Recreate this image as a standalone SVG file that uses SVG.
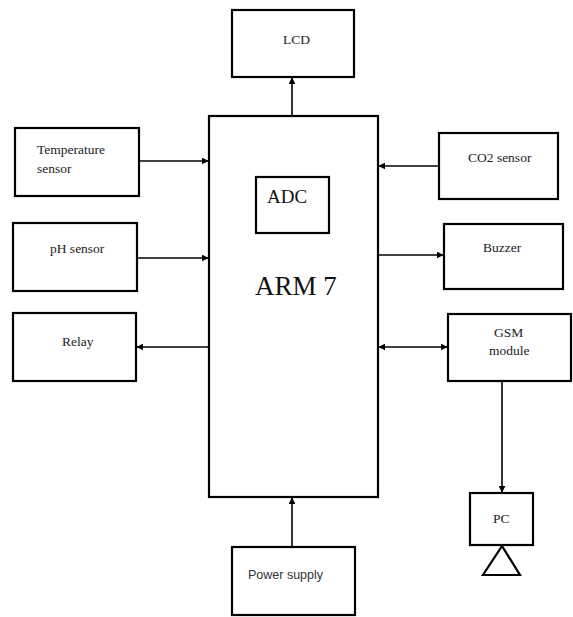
<svg xmlns="http://www.w3.org/2000/svg" width="573" height="617" viewBox="0 0 573 617">
<style>
.box{fill:#fff;stroke:#000;stroke-width:2.2}
.lbl{font-family:'Liberation Serif','Times New Roman',serif;font-size:13.5px;fill:#222}
.con{fill:none;stroke:#000;stroke-width:1.6}
</style>
<defs>
<marker id="ah" viewBox="0 0 10 10" refX="9" refY="5" markerWidth="7" markerHeight="7" markerUnits="userSpaceOnUse" orient="auto-start-reverse">
<path d="M0,0 L10,5 L0,10 z" fill="#000"/>
</marker>
</defs>
<rect width="573" height="617" fill="#fff"/>
<g id="lcd"><rect class="box" x="232" y="10" width="122" height="67"/><text class="lbl" x="283" y="44">LCD</text></g>
<g id="arm7"><rect class="box" x="209" y="116" width="169" height="381"/>
<text x="296" y="295" text-anchor="middle" font-family="'Liberation Serif','Times New Roman',serif" font-size="27" fill="#111">ARM 7</text></g>
<g id="adc"><rect class="box" x="256" y="177" width="73" height="56"/>
<text x="267" y="203" font-family="'Liberation Serif','Times New Roman',serif" font-size="19" fill="#111">ADC</text></g>
<g id="temp"><rect class="box" x="15" y="128" width="124" height="68"/><text class="lbl" x="37" y="154">Temperature</text><text class="lbl" x="37" y="173">sensor</text></g>
<g id="ph"><rect class="box" x="13" y="223" width="124" height="68"/><text class="lbl" x="50" y="253">pH sensor</text></g>
<g id="relay"><rect class="box" x="13" y="313" width="123" height="68"/><text class="lbl" x="62" y="346">Relay</text></g>
<g id="co2"><rect class="box" x="439" y="133" width="119" height="66"/><text class="lbl" x="468" y="162">CO2 sensor</text></g>
<g id="buzzer"><rect class="box" x="444" y="224" width="119" height="65"/><text class="lbl" x="483" y="252">Buzzer</text></g>
<g id="gsm"><rect class="box" x="448" y="314" width="123" height="67"/><text class="lbl" x="494" y="337">GSM</text><text class="lbl" x="489" y="355">module</text></g>
<g id="pc"><rect class="box" x="470" y="493" width="63" height="52"/><text class="lbl" x="493" y="523">PC</text>
<path d="M502,546 L520,575 L483,575 Z" fill="#fff" stroke="#000" stroke-width="2.2" stroke-linejoin="miter"/></g>
<g id="power"><rect class="box" x="232" y="547" width="123" height="68"/>
<text x="248" y="579" font-family="'Liberation Sans',Arial,sans-serif" font-size="12.5" fill="#333">Power supply</text></g>
<g id="connectors">
<line class="con" x1="292" y1="116" x2="292" y2="78" marker-end="url(#ah)"/>
<line class="con" x1="139" y1="161" x2="208" y2="161" marker-end="url(#ah)"/>
<line class="con" x1="137" y1="258" x2="208" y2="258" marker-end="url(#ah)"/>
<line class="con" x1="209" y1="347" x2="137" y2="347" marker-end="url(#ah)"/>
<line class="con" x1="439" y1="166" x2="379" y2="166" marker-end="url(#ah)"/>
<line class="con" x1="378" y1="255" x2="443" y2="255" marker-end="url(#ah)"/>
<line class="con" x1="379" y1="347" x2="447" y2="347" marker-start="url(#ah)" marker-end="url(#ah)"/>
<line class="con" x1="502" y1="381" x2="502" y2="492" marker-end="url(#ah)"/>
<line class="con" x1="292" y1="547" x2="292" y2="498" marker-end="url(#ah)"/>
</g>
</svg>
